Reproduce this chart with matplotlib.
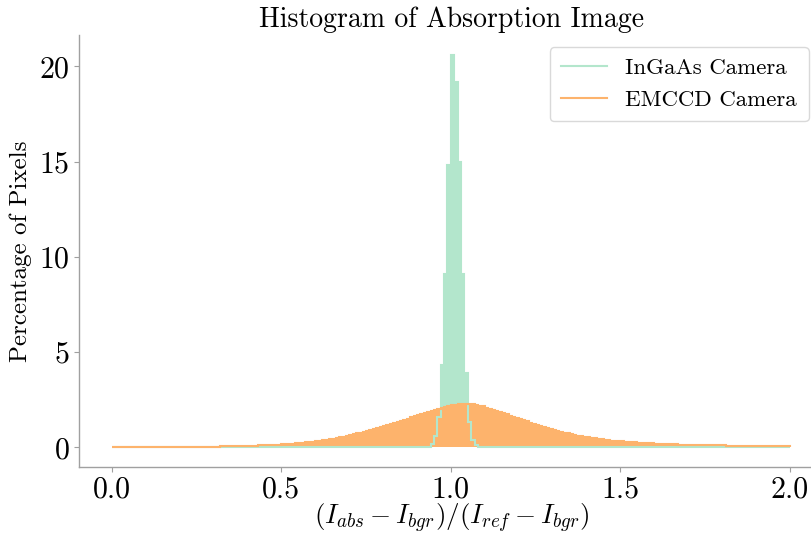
import numpy as np
import matplotlib
matplotlib.use('Agg')
import matplotlib.pyplot as plt

plt.rcParams['font.family'] = 'serif'
plt.rcParams['font.serif'] = ['cmr10']
plt.rcParams['mathtext.fontset'] = 'cm'
plt.rcParams['axes.formatter.use_mathtext'] = True

# histogram bins (0.01 wide, 0 to 2)
bin_edges = np.linspace(0, 2, 201)

# InGaAs camera: percentage of pixels per bin, non-zero only around 1.0
ingaas_first_bin = 94
ingaas_peak = [0.16, 0.58, 1.57, 4.3, 9.1, 14.8, 20.6, 19.2, 15.0, 9.1, 3.9, 1.33, 0.38, 0.15]

# EMCCD camera: percentage of pixels per bin (rows of 0.1)
emccd = [
    0.01, 0.01, 0.01, 0.01, 0.01, 0.01, 0.01, 0.01, 0.01, 0.01,
    0.01, 0.01, 0.01, 0.01, 0.01, 0.01, 0.02, 0.02, 0.02, 0.02,
    0.02, 0.02, 0.02, 0.02, 0.03, 0.03, 0.03, 0.03, 0.03, 0.04,
    0.04, 0.04, 0.05, 0.05, 0.05, 0.06, 0.06, 0.07, 0.07, 0.08,
    0.08, 0.09, 0.09, 0.10, 0.11, 0.11, 0.12, 0.13, 0.14, 0.15,
    0.16, 0.17, 0.18, 0.19, 0.21, 0.22, 0.24, 0.26, 0.28, 0.30,
    0.32, 0.34, 0.37, 0.39, 0.42, 0.45, 0.48, 0.52, 0.56, 0.60,
    0.64, 0.68, 0.73, 0.78, 0.83, 0.88, 0.93, 0.98, 1.03, 1.08,
    1.13, 1.18, 1.23, 1.28, 1.33, 1.39, 1.45, 1.51, 1.57, 1.63,
    1.69, 1.75, 1.81, 1.87, 1.93, 1.98, 2.03, 2.08, 2.13, 2.17,
    2.22, 2.25, 2.27, 2.28, 2.29, 2.28, 2.26, 2.23, 2.19, 2.15,
    2.09, 2.04, 1.98, 1.92, 1.86, 1.80, 1.74, 1.67, 1.61, 1.54,
    1.48, 1.42, 1.36, 1.30, 1.24, 1.18, 1.12, 1.06, 1.01, 0.96,
    0.91, 0.86, 0.81, 0.77, 0.73, 0.69, 0.65, 0.62, 0.59, 0.56,
    0.53, 0.50, 0.47, 0.45, 0.42, 0.40, 0.38, 0.36, 0.34, 0.33,
    0.31, 0.30, 0.28, 0.27, 0.26, 0.25, 0.24, 0.23, 0.22, 0.21,
    0.20, 0.19, 0.18, 0.18, 0.17, 0.16, 0.16, 0.15, 0.15, 0.14,
    0.14, 0.13, 0.13, 0.12, 0.12, 0.11, 0.11, 0.11, 0.10, 0.10,
    0.10, 0.09, 0.09, 0.09, 0.08, 0.08, 0.08, 0.08, 0.07, 0.07,
    0.07, 0.07, 0.07, 0.06, 0.06, 0.06, 0.06, 0.06, 0.05, 0.05,
]

ingaas = np.zeros(len(bin_edges) - 1)
ingaas[ingaas_first_bin:ingaas_first_bin + len(ingaas_peak)] = ingaas_peak
emccd = np.array(emccd)

green = '#b3e6cc'
orange = '#fdb36c'

fig = plt.figure(figsize=(8.11, 5.36), dpi=100)
ax = fig.add_axes([0.098, 0.1287, 0.918, 0.806])

ax.stairs(ingaas, bin_edges, fill=True, color=green, zorder=1)
ax.stairs(emccd, bin_edges, fill=True, color=orange, zorder=2)
ax.stairs(ingaas, bin_edges, color=green, lw=1.5, zorder=3, label='InGaAs Camera')
ax.stairs(emccd, bin_edges, color=orange, lw=1.5, zorder=4, label='EMCCD Camera')

ax.set_xlim(-0.095, 2.1)
ax.set_ylim(-1.03, 21.65)
ax.set_xticks([0.0, 0.5, 1.0, 1.5, 2.0])
ax.set_xticklabels(['0.0', '0.5', '1.0', '1.5', '2.0'])
ax.set_yticks([0, 5, 10, 15, 20])

for s in ['top', 'right']:
    ax.spines[s].set_visible(False)
for s in ['left', 'bottom']:
    ax.spines[s].set_color('#a0a0a0')
    ax.spines[s].set_linewidth(1.0)
ax.tick_params(colors='#a0a0a0', labelcolor='black', labelsize=21.5, length=3.5, width=0.8)
ax.tick_params(axis='x', pad=3)

ax.set_title('Histogram of Absorption Image', fontsize=20)
ax.set_xlabel(r'$(I_{abs} - I_{bgr})/(I_{ref} - I_{bgr})$', fontsize=19.5, labelpad=-1)
ax.set_ylabel('Percentage of Pixels', fontsize=18, labelpad=5)

leg = ax.legend(loc='upper right', bbox_to_anchor=(808.5 / 811, 1 - 47 / 536),
                bbox_transform=fig.transFigure, borderaxespad=0, fontsize=16.5,
                frameon=True, fancybox=True, labelspacing=0.5, borderpad=0.5)
leg.get_frame().set_edgecolor('#d0d0d0')

fig.savefig('out.png', dpi=100)
